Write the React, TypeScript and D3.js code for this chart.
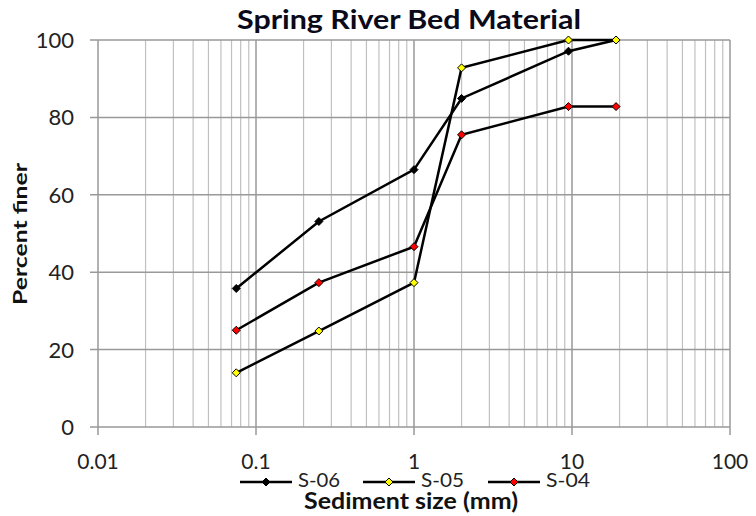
import React from "react";
import * as d3 from "d3";

const sizes = [0.075, 0.25, 1, 2, 9.5, 19];
const s06 = [35.8, 53.1, 66.5, 84.9, 97.1, 100];
const s05 = [14.0, 24.8, 37.3, 92.8, 100, 100];
const s04 = [25.0, 37.3, 46.6, 75.5, 82.8, 82.8];
const seriesNames = ["S-06", "S-05", "S-04"];
const seriesColors = ["#000000", "#ffff00", "#ff0000"];
const xTicks = [0.01, 0.1, 1, 10, 100];
const yTicks = [0, 20, 40, 60, 80, 100];

const W = 756, H = 516;
const L = 98, R = 730, T = 40, B = 427;

export default function App() {
  const x = d3.scaleLog().domain([0.01, 100]).range([L, R]);
  const y = d3.scaleLinear().domain([0, 100]).range([B, T]);
  const minor: number[] = [];
  for (let e = -2; e < 2; e++) {
    for (let m = 2; m <= 9; m++) minor.push(m * Math.pow(10, e));
  }
  const line = d3.line<[number, number]>().x(d => x(d[0])).y(d => y(d[1]));
  const all = [s06, s05, s04];
  const font = "Lato, 'Open Sans', sans-serif";
  const diamond = (cx: number, cy: number, fill: string, k: string) => (
    <path key={k} d={`M${cx},${cy - 4}L${cx + 4},${cy}L${cx},${cy + 4}L${cx - 4},${cy}Z`} fill={fill} stroke="#000" strokeWidth={1} />
  );
  const legendX = [240, 363, 488];
  const legendW = [42, 43, 44];
  return (
    <svg width={W} height={H} style={{ position: "absolute", left: 0, top: 0, background: "#fff" }}>
      {minor.map((v, i) => (
        <line key={"m" + i} x1={x(v)} x2={x(v)} y1={T} y2={B} stroke="#c0c0c0" strokeWidth={1.2} />
      ))}
      {xTicks.map((v, i) => (
        <line key={"xm" + i} x1={x(v)} x2={x(v)} y1={T} y2={B + 8} stroke="#999" strokeWidth={1.5} />
      ))}
      {yTicks.map((v, i) => (
        <line key={"ym" + i} x1={L - 8} x2={R} y1={y(v)} y2={y(v)} stroke="#999" strokeWidth={1.5} />
      ))}
      {yTicks.map((v, i) => (
        <text key={"yt" + i} x={74} y={y(v) + 8} textAnchor="end" fontSize={22} fontFamily={font} fill="#222">{v}</text>
      ))}
      {xTicks.map((v, i) => (
        <text key={"xt" + i} x={x(v)} y={469} textAnchor="middle" fontSize={21} fontFamily={font} fill="#222">{String(v)}</text>
      ))}
      {all.map((s, si) => (
        <path key={"l" + si} d={line(sizes.map((sz, j) => [sz, s[j]] as [number, number])) || ""} fill="none" stroke="#000" strokeWidth={2.5} />
      ))}
      {all.map((s, si) => sizes.map((sz, j) => diamond(x(sz), y(s[j]), seriesColors[si], `d${si}-${j}`)))}
      <text x={237} y={29} textLength={344} lengthAdjust="spacingAndGlyphs" fontSize={27} fontWeight="bold" fontFamily={font} fill="#0a0a1a">Spring River Bed Material</text>
      <text transform={`translate(27,305) rotate(-90)`} textLength={142} lengthAdjust="spacingAndGlyphs" fontSize={19} fontWeight="bold" fontFamily={font} fill="#111">Percent finer</text>
      <text x={304} y={509} textLength={214} lengthAdjust="spacingAndGlyphs" fontSize={22} fontWeight="bold" fontFamily={font} fill="#111">Sediment size (mm)</text>
      {seriesNames.map((n, i) => (
        <g key={"lg" + i}>
          <line x1={legendX[i]} x2={legendX[i] + 52} y1={482} y2={482} stroke="#000" strokeWidth={2.5} />
          {diamond(legendX[i] + 26, 482, seriesColors[i], "lgd" + i)}
          <text x={legendX[i] + 58} y={487} textLength={legendW[i]} lengthAdjust="spacingAndGlyphs" fontSize={20} fontFamily={font} fill="#222">{n}</text>
        </g>
      ))}
    </svg>
  );
}
